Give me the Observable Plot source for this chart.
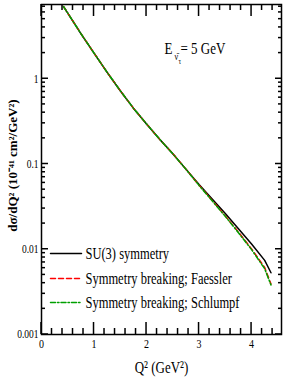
<!DOCTYPE html>
<html><head><meta charset="utf-8">
<script src="https://cdn.jsdelivr.net/npm/d3@7"></script>
<script src="https://cdn.jsdelivr.net/npm/@observablehq/plot@0.6"></script>
<style>body{margin:0;background:#fff;} svg text{font-family:"Liberation Serif",serif;}</style>
</head><body><div id="chart"></div>
<script>
// ---- data ----
const q2 = [0.42, 0.5, 0.75, 1, 1.25, 1.5, 1.75, 2, 2.25, 2.5, 2.75, 3, 3.25, 3.5, 3.75, 4, 4.25, 4.37];
const su3 = [7.03, 5.89, 3.39, 2.0, 1.19, 0.724, 0.452, 0.295, 0.195, 0.132, 0.0871, 0.0575, 0.0389, 0.0263, 0.0174, 0.0115, 0.0074, 0.0053];
const faessler = [7.03, 5.89, 3.39, 2.0, 1.19, 0.724, 0.452, 0.295, 0.195, 0.132, 0.0871, 0.0565, 0.0374, 0.0246, 0.0159, 0.0101, 0.0061, 0.0039];
const schlumpf = [7.03, 5.89, 3.39, 2.0, 1.19, 0.724, 0.452, 0.295, 0.195, 0.132, 0.0868, 0.0561, 0.0370, 0.0243, 0.0156, 0.0099, 0.0059, 0.0038];
const seriesNames = ["SU(3) symmetry", "Symmetry breaking; Faessler", "Symmetry breaking; Schlumpf"];
const seriesColors = ["#000000", "#ff0000", "#00a000"];
const seriesDash = [null, "5,3", "5,2,1.5,2"];
const xTicks = [0, 1, 2, 3, 4];
const yTicks = [0.001, 0.01, 0.1, 1];
const xLabel = "Q² (GeV²)";
const yLabel = "dσ/dQ² (10⁻⁴¹ cm²/GeV²)";
const energyLabel = ["E", "ν̄", "τ", "= 5 GeV"];

// ---- derived tables ----
const values = [su3, faessler, schlumpf];
const rows = values.map((vals, s) => vals.map((v, i) => ({series: seriesNames[s], q2: q2[i], v})));
const xMinor = d3.range(1, 23).map(i => i / 5).filter(d => Math.abs(d - Math.round(d)) > 1e-9);
const yMinor = [];
for (const d of yTicks) for (let k = 2; k <= 9; k++) if (d * k <= 7.43) yMinor.push(+(d * k).toPrecision(3));

const seg = {draw(ctx, l) { ctx.moveTo(0, 0); ctx.lineTo(l, 0); }};
const legendDy = [-81, -56, -32];
const M = {top: 4, right: 3, bottom: 48, left: 41}, W = 284, H = 382;

const plot = Plot.plot({
  width: W, height: H,
  marginLeft: M.left, marginRight: M.right, marginTop: M.top, marginBottom: M.bottom,
  style: "font-family: 'Liberation Serif', serif; font-size: 10px; background: white; color: black;",
  x: {domain: [0, 4.57]},
  y: {type: "log", domain: [0.001, 7.43]},
  marks: [
    Plot.axisX(xTicks, {anchor: "bottom", tickSize: 0, tickPadding: 4, fontSize: 10, label: null, tickFormat: d => String(d)}),
    Plot.axisY(yTicks, {anchor: "left", tickSize: 0, tickPadding: 3, fontSize: 9.5, label: null, tickFormat: d => String(d)}),
    Plot.frame({stroke: "black", strokeWidth: 1.5}),
    ...rows.map((r, s) => Plot.line(r, {x: "q2", y: "v", stroke: seriesColors[s], strokeWidth: 1.5, strokeDasharray: seriesDash[s]})),
    ...seriesNames.map((name, s) => Plot.vector([name], {frameAnchor: "bottom-left", dx: 9, dy: legendDy[s], length: 31, rotate: 0, anchor: "start", shape: seg, stroke: seriesColors[s], strokeWidth: 1.5, strokeDasharray: seriesDash[s]})),
    ...seriesNames.map((name, s) => Plot.text([name], {frameAnchor: "bottom-left", dx: 44, dy: legendDy[s], textAnchor: "start", lineAnchor: "middle", fontSize: 12.5})),
    Plot.text([energyLabel[0]], {frameAnchor: "top-left", dx: 123, dy: 44, textAnchor: "start", lineAnchor: "middle", fontSize: 13}),
    Plot.text([energyLabel[1]], {frameAnchor: "top-left", dx: 133, dy: 52, textAnchor: "start", lineAnchor: "middle", fontSize: 8}),
    Plot.text([energyLabel[2]], {frameAnchor: "top-left", dx: 137, dy: 57, textAnchor: "start", lineAnchor: "middle", fontSize: 6.5}),
    Plot.text([energyLabel[3]], {frameAnchor: "top-left", dx: 139, dy: 44, textAnchor: "start", lineAnchor: "middle", fontSize: 13}),
    Plot.text([xLabel], {frameAnchor: "bottom", dy: 33, textAnchor: "middle", lineAnchor: "middle", fontSize: 13}),
    Plot.text([yLabel], {frameAnchor: "left", dx: -29, dy: -4, rotate: -90, textAnchor: "middle", lineAnchor: "middle", fontSize: 13, fontWeight: "bold"})
  ]
});
document.getElementById("chart").appendChild(plot);

// inward ticks on all four sides, placed with the plot's own scales
const sx = plot.scale("x"), sy = plot.scale("y");
const fb = H - M.bottom, ft = M.top, fl = M.left, fr = W - M.right;
const tg = d3.select(plot).append("g").attr("stroke", "#000").attr("stroke-width", 1.5).attr("fill", "none");
const addX = (arr, len) => arr.forEach(v => {
  const px = sx.apply(v);
  tg.append("line").attr("x1", px).attr("x2", px).attr("y1", fb).attr("y2", fb - len);
  tg.append("line").attr("x1", px).attr("x2", px).attr("y1", ft).attr("y2", ft + len);
});
const addY = (arr, lenL, lenR) => arr.forEach(v => {
  const py = sy.apply(v);
  tg.append("line").attr("x1", fl).attr("x2", fl + lenL).attr("y1", py).attr("y2", py);
  tg.append("line").attr("x1", fr).attr("x2", fr - lenR).attr("y1", py).attr("y2", py);
});
addX(xTicks, 12); addX(xMinor, 6);
addY(yTicks, 7, 6); addY(yMinor, 4, 3);

// vertical stretch of the horizontal lettering, as in the reference
d3.select(plot).selectAll("text").each(function () {
  let t = this.getAttribute("transform");
  if (!t) {
    const x = +this.getAttribute("x") || 0, y = +this.getAttribute("y") || 0;
    this.removeAttribute("x"); this.removeAttribute("y");
    t = `translate(${x},${y})`;
  }
  if (/rotate\(-90\)/.test(t)) return;
  this.setAttribute("transform", t + " scale(1,1.3)");
});
</script>
</body></html>
